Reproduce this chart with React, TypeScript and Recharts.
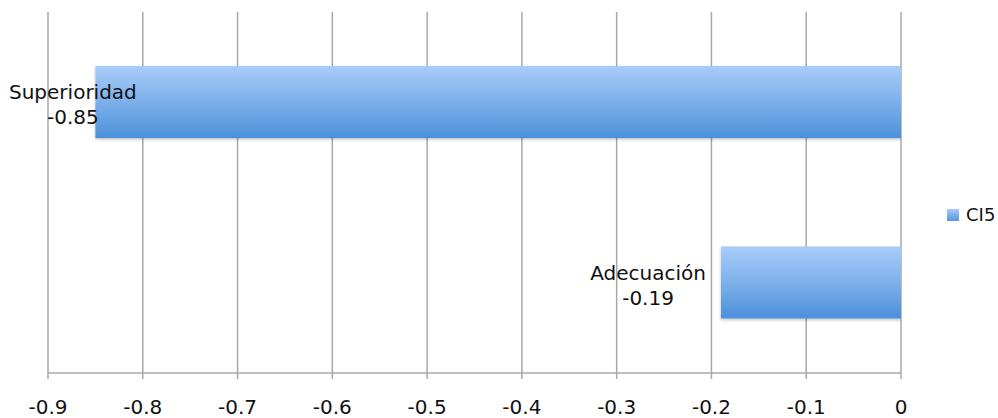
import React from 'react';
import { BarChart, Bar, XAxis, YAxis, CartesianGrid, LabelList } from 'recharts';

const categories = ['Superioridad', 'Adecuación'];
const ci5Values = [-0.85, -0.19];
const xTicks = [-0.9, -0.8, -0.7, -0.6, -0.5, -0.4, -0.3, -0.2, -0.1, 0];
const seriesName = 'CI5';

const data = categories.map((name, i) => ({ name, CI5: ci5Values[i] }));

const FONT = '"DejaVu Sans", Verdana, sans-serif';
const LABEL_SIZE = 20;

// rough text width so the label can be kept inside the chart like Excel does
const measure = (text: string, size: number) => {
    if (typeof document !== 'undefined') {
        const ctx = document.createElement('canvas').getContext('2d');
        if (ctx) {
            ctx.font = `${size}px ${FONT}`;
            return ctx.measureText(text).width;
        }
    }
    return text.length * size * 0.6;
};

const BarLabel = (props: any) => {
    const { x, y, width, height, index } = props;
    const name = categories[index];
    const value = String(ci5Values[index]);
    const w = Math.max(measure(name, LABEL_SIZE), measure(value, LABEL_SIZE));
    const barStart = Math.min(x, x + width);
    // outside end, to the left of the bar, clamped to the chart edge
    let cx = barStart - 15 - w / 2;
    if (cx - w / 2 < 9) cx = 9 + w / 2;
    const cy = y + height / 2;
    return (
        <text textAnchor="middle" fontFamily={FONT} fontSize={LABEL_SIZE} fill="#111">
            <tspan x={cx} y={cy - 3}>{name}</tspan>
            <tspan x={cx} y={cy + 22}>{value}</tspan>
        </text>
    );
};

export default function App() {
    return (
        <div style={{ position: 'absolute', left: 0, top: 0, width: 998, height: 418, background: '#fff' }}>
            <BarChart
                width={998}
                height={418}
                data={data}
                layout="vertical"
                margin={{ top: 12, right: 97, left: 48, bottom: 0 }}
                barSize={72}
            >
                <defs>
                    <linearGradient id="barFill" x1="0" y1="0" x2="0" y2="1">
                        <stop offset="0%" stopColor="#a7ccfa" />
                        <stop offset="50%" stopColor="#7eb0ea" />
                        <stop offset="100%" stopColor="#4b90db" />
                    </linearGradient>
                    <filter id="barShadow" x="-5%" y="-10%" width="110%" height="130%">
                        <feDropShadow dx="0" dy="1.5" stdDeviation="1.5" floodColor="#000" floodOpacity="0.25" />
                    </filter>
                </defs>
                <CartesianGrid horizontal={false} stroke="#a8a8a8" strokeWidth={1.5} />
                <XAxis
                    type="number"
                    domain={[-0.9, 0]}
                    ticks={xTicks}
                    interval={0}
                    allowDataOverflow
                    height={45}
                    stroke="#a8a8a8"
                    strokeWidth={1.5}
                    tickSize={6}
                    tickMargin={21}
                    tick={{ fill: '#111', fontSize: 20, fontFamily: FONT }}
                />
                <YAxis type="category" dataKey="name" hide />
                <Bar dataKey="CI5" fill="url(#barFill)" filter="url(#barShadow)" isAnimationActive={false}>
                    <LabelList dataKey="CI5" content={<BarLabel />} />
                </Bar>
            </BarChart>
            {/* legend, drawn outside so it doesn't shrink the plot */}
            <div
                style={{
                    position: 'absolute',
                    left: 947,
                    top: 204,
                    display: 'flex',
                    alignItems: 'center',
                    fontFamily: FONT,
                    fontSize: 18,
                    color: '#111',
                }}
            >
                <span
                    style={{
                        display: 'inline-block',
                        width: 12,
                        height: 12,
                        marginRight: 7,
                        background: 'linear-gradient(#a6cbf9, #5596df)',
                    }}
                />
                {seriesName}
            </div>
        </div>
    );
}
